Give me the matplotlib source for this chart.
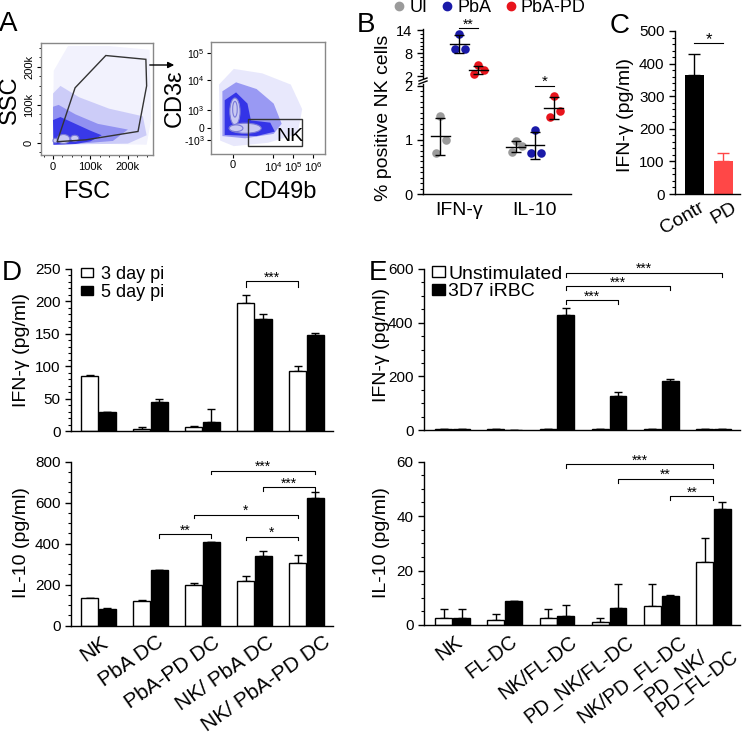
import numpy as np
import matplotlib
matplotlib.use('Agg')
import matplotlib.pyplot as plt
from matplotlib.patches import Polygon, Ellipse, Rectangle, Patch, FancyArrowPatch
from matplotlib.lines import Line2D
from matplotlib.ticker import MultipleLocator

plt.rcParams['font.family'] = ['Liberation Sans', 'DejaVu Sans']
plt.rcParams['mathtext.default'] = 'regular'
plt.rcParams['axes.linewidth'] = 1.0

W, H = 745, 732

# %% data
# panel A: gates (FSC/SSC in thousands, CD49b/CD3e in display units 0-100)
a_fsc_gate = [(11, 3), (59, 145), (141, 230), (248, 220), (250, 150), (227, 30), (88, 8)]
a_nk_gate = (32.5, 7.1, 79.8, 31.3)
a_cd49_ticks = [19.3, 54.4, 71.9, 89.5]
a_cd49_labels = ['0', '$10^4$', '$10^5$', '$10^6$']
a_cd3_ticks = [12.5, 23.2, 39.3, 66.0, 90.2]
a_cd3_labels = ['-$10^3$', '0', '$10^3$', '$10^4$', '$10^5$']

# panel B: % positive NK cells, individual mice
b_ifn_ui = [1.44, 1.00, 0.76]
b_ifn_pba = [13.0, 9.2, 9.0]
b_ifn_pbapd = [4.9, 3.6, 2.7]
b_il10_ui = [0.97, 0.88, 0.77]
b_il10_pba = [1.19, 0.75, 0.75]
b_il10_pbapd = [1.81, 1.53, 1.42]

# panel C
c_groups = ['Contr', 'PD']
c_mean = [365, 102]
c_err = [65, 25]

# panel D
d_groups = ['NK', 'PbA DC', 'PbA-PD DC', 'NK/ PbA DC', 'NK/ PbA-PD DC']
d_ifn_3 = [85, 3, 6, 197, 93]
d_ifn_3_err = [0.5, 3, 1, 13, 7]
d_ifn_5 = [29, 44, 14, 173, 148]
d_ifn_5_err = [1, 5, 20, 7, 3]
d_il_3 = [133, 118, 197, 218, 305]
d_il_3_err = [2, 5, 12, 22, 37]
d_il_5 = [80, 270, 405, 340, 620]
d_il_5_err = [4, 2, 4, 25, 30]

# panel E
e_groups = ['NK', 'FL-DC', 'NK/FL-DC', 'PD_NK/FL-DC', 'NK/PD_FL-DC', 'PD_NK/\nPD_FL-DC']
e_ifn_un = [3, 4, 2, 3, 2, 2]
e_ifn_un_err = [1, 1, 1, 1, 1, 1]
e_ifn_st = [3, 0.5, 428, 127, 183, 3]
e_ifn_st_err = [1, 0, 27, 15, 7, 1]
e_il_un = [2.5, 1.8, 2.5, 1.2, 7.0, 23.0]
e_il_un_err = [3.5, 2.2, 3.5, 1.5, 8.2, 9.0]
e_il_st = [2.5, 8.8, 3.2, 6.2, 10.5, 42.5]
e_il_st_err = [3.5, 0.0, 4.3, 8.8, 0.6, 2.7]


def rect(l, t, r, b):
    return [l / W, 1 - b / H, (r - l) / W, (b - t) / H]


def clean(ax, fs=11):
    ax.spines['top'].set_visible(False)
    ax.spines['right'].set_visible(False)
    ax.tick_params(direction='out', length=4, width=1, labelsize=fs)
    ax.tick_params(which='minor', direction='out', length=2, width=0.8)


def bracket(ax, x1, x2, y, d, txt, fs=10):
    ax.plot([x1, x1, x2, x2], [y - d, y, y, y - d], color='k', lw=0.8, clip_on=False)
    ax.annotate(txt, ((x1 + x2) / 2, y), xytext=(0, -2.5), textcoords='offset points',
                ha='center', va='bottom', fontsize=fs, annotation_clip=False)


def grouped(ax, v1, e1, v2, e2, off=0.17, w=0.33):
    x = np.arange(len(v1))
    ax.bar(x - off, v1, w, color='white', edgecolor='black', lw=1.0, zorder=2)
    ax.bar(x + off, v2, w, color='black', edgecolor='black', lw=1.0, zorder=2)
    ax.errorbar(x - off, v1, yerr=[np.zeros(len(v1)), e1], fmt='none', ecolor='black',
                elinewidth=1, capsize=3, capthick=1, zorder=1)
    ax.errorbar(x + off, v2, yerr=[np.zeros(len(v2)), e2], fmt='none', ecolor='black',
                elinewidth=1, capsize=3, capthick=1, zorder=1)
    return x


def rot_labels(ax, labels, dx_px, rot, fs, y_px=7):
    # rotated category labels, right-top corner placed under each group
    for i, (lab, dx) in enumerate(zip(labels, dx_px)):
        tr = ax.get_xaxis_transform() + matplotlib.transforms.ScaledTranslation(dx / 100, -y_px / 100,
                                                                                fig.dpi_scale_trans)
        ax.text(i, 0, lab, transform=tr, rotation=rot, rotation_mode='anchor', ha='right', va='top',
                fontsize=fs, multialignment='left', linespacing=0.95)


fig = plt.figure(figsize=(W / 100, H / 100), dpi=100)

# %% panel A, FSC/SSC
blue = '#2323e6'
ax = fig.add_axes(rect(41, 43, 153, 155))
ax.set_xlim(-32, 267)
ax.set_ylim(-32, 263)
ax.add_patch(Polygon([(0, 0), (2, 190), (40, 255), (150, 255), (258, 245), (262, 60), (250, -5)],
                     fc=blue, alpha=0.06, lw=0))
ax.add_patch(Polygon([(0, -5), (0, 130), (20, 150), (70, 120), (150, 90), (240, 70), (250, 20), (200, -2)],
                     fc=blue, alpha=0.18, lw=0))
ax.add_patch(Polygon([(0, -5), (0, 95), (15, 100), (60, 75), (120, 50), (200, 35), (160, 5), (60, -3)],
                     fc=blue, alpha=0.35, lw=0))
ax.add_patch(Polygon([(2, -5), (0, 60), (20, 68), (60, 50), (100, 32), (130, 20), (100, 4), (60, -3)],
                     fc=blue, alpha=0.8, lw=0))
for cx, cy, ew, eh in [(28, 10, 34, 24), (58, 12, 22, 16), (6, 6, 12, 12)]:
    ax.add_patch(Ellipse((cx, cy), ew, eh, fc='#c9c9f2', ec='#7a7ad8', lw=0.8))
ax.add_patch(Polygon(a_fsc_gate, closed=True, fill=False, ec='#333333', lw=1.0))
ax.set_xticks([0, 100, 200])
ax.set_xticklabels(['0', '100k', '200k'], fontsize=8)
ax.set_yticks([0, 100, 200])
ax.set_yticklabels(['0', '100k', '200k'], fontsize=8, rotation=90, va='center')
ax.xaxis.set_minor_locator(MultipleLocator(25))
ax.yaxis.set_minor_locator(MultipleLocator(25))
ax.tick_params(direction='out', length=3, width=0.8, pad=2)
ax.tick_params(which='minor', length=1.5, width=0.6)
for s in ax.spines.values():
    s.set_color('#888888')
fig.text(10 / W, 1 - 100 / H, 'SSC', rotation=90, ha='center', va='center', fontsize=17)
fig.text(87 / W, 1 - 192 / H, 'FSC', ha='center', va='center', fontsize=17)

# arrow to gated plot
fig.add_artist(FancyArrowPatch((147 / W, 1 - 65 / H), (177 / W, 1 - 65 / H),
               transform=fig.transFigure, arrowstyle='-|>', mutation_scale=9, color='k', lw=1))

# %% panel A, CD49b/CD3e
ax = fig.add_axes(rect(211, 42, 325, 154))
ax.set_xlim(0, 100)
ax.set_ylim(0, 100)
ax.add_patch(Polygon([(8, 12), (7, 62), (20, 76), (45, 72), (70, 62), (80, 40), (76, 18), (50, 10), (20, 7)],
                     fc=blue, alpha=0.10, lw=0))
ax.add_patch(Polygon([(10, 16), (10, 56), (22, 64), (40, 58), (55, 45), (62, 27), (55, 18), (30, 14)],
                     fc=blue, alpha=0.4, lw=0))
ax.add_patch(Polygon([(12, 17), (12, 48), (22, 55), (32, 45), (35, 30), (52, 28), (56, 20), (40, 16)],
                     fc=blue, alpha=0.85, lw=0))
for cx, cy, ew, eh in [(21, 38, 9, 24), (30, 23, 28, 9), (21, 40, 4, 14), (22, 23, 12, 6)]:
    ax.add_patch(Ellipse((cx, cy), ew, eh, fc='#c9c9f2', ec='#7a7ad8', lw=0.8))
x1, y1, x2, y2 = a_nk_gate
ax.add_patch(Rectangle((x1, y1), x2 - x1, y2 - y1, fill=False, ec='#333333', lw=1.0))
ax.text(69, 16, 'NK', fontsize=14, ha='center', va='center')
ax.set_xticks(a_cd49_ticks)
ax.set_xticklabels(a_cd49_labels, fontsize=8)
ax.set_yticks(a_cd3_ticks)
ax.set_yticklabels(a_cd3_labels, fontsize=7.5)
ax.tick_params(direction='out', length=3, width=0.8, pad=1.5)
for s in ax.spines.values():
    s.set_color('#888888')
fig.text(175 / W, 1 - 98 / H, 'CD3ε', rotation=90, ha='center', va='center', fontsize=17)
fig.text(280 / W, 1 - 192 / H, 'CD49b', ha='center', va='center', fontsize=17)

# %% panel B
col = {'UI': '#9b9b9b', 'PbA': '#1a1aa8', 'PbA-PD': '#e8141c'}
pos = [0, 1, 2, 4, 5, 6]
sets = [b_ifn_ui, b_ifn_pba, b_ifn_pbapd, b_il10_ui, b_il10_pba, b_il10_pbapd]
cols = [col['UI'], col['PbA'], col['PbA-PD']] * 2
jit = [0.0, 0.3, -0.2]

axu = fig.add_axes(rect(423, 29, 571, 78))
axl = fig.add_axes(rect(423, 84, 571, 194))
for a in (axu, axl):
    clean(a, fs=10.5)
    a.set_xlim(-0.9, 6.9)
axu.spines['bottom'].set_visible(False)
axu.set_xticks([])
axu.set_ylim(1.6, 14.3)
axu.set_yticks([2, 8, 14])
axu.yaxis.set_minor_locator(MultipleLocator(1))
axl.set_ylim(0, 2.03)
axl.set_yticks([0, 1, 2])
axl.yaxis.set_minor_locator(MultipleLocator(0.1))
axl.set_xticks([1, 5])
axl.set_xticklabels(['IFN-γ', 'IL-10'], fontsize=14)
axl.tick_params(axis='x', length=0, pad=6)
for p, vals, c in zip(pos, sets, cols):
    vals = np.array(vals)
    m, sd = vals.mean(), vals.std(ddof=1)
    a = axu if m > 2 else axl
    a.scatter(p + np.array(jit), vals, s=38, color=c, zorder=3, lw=0, clip_on=False)
    a.plot([p - 0.5, p + 0.5], [m, m], color='k', lw=1, zorder=4)
    a.errorbar(p, m, yerr=sd, fmt='none', ecolor='k', elinewidth=1, capsize=3.5, capthick=1, zorder=4)
# broken axis marks
for yy in (79.5, 82.5):
    fig.add_artist(Line2D([419 / W, 427 / W], [1 - (yy + 1.5) / H, 1 - (yy - 1.5) / H],
                          color='k', lw=1))
bracket(axu, 1, 2, 14.6, 0, '**', fs=10)
bracket(axl, 5, 6, 2.0, 0, '*', fs=11)
handles = [Line2D([], [], marker='o', ls='none', color=col[k], markersize=6) for k in col]
axu.legend(handles, list(col), loc='lower left', bbox_to_anchor=(-0.22, 1.26), ncol=3, frameon=False,
           fontsize=13, handletextpad=0.05, columnspacing=0.6, borderaxespad=0, borderpad=0,
           handlelength=1)
fig.text(383 / W, 1 - 118 / H, '% positive NK cells', rotation=90, ha='center', va='center', fontsize=14)

# %% panel C
ax = fig.add_axes(rect(675, 31, 740, 194))
clean(ax)
ax.set_xlim(-0.67, 1.57)
ax.set_ylim(0, 500)
ax.set_yticks(range(0, 501, 100))
ax.yaxis.set_minor_locator(MultipleLocator(20))
cx = np.arange(len(c_groups))
c_cols = ['black', '#ff4747']
ax.bar(cx, c_mean, 0.65, color=c_cols, zorder=2)
for xx, m, e, c in zip(cx, c_mean, c_err, c_cols):
    ax.errorbar(xx, m, yerr=[[0], [e]], fmt='none', ecolor=c,
                elinewidth=1, capsize=4, capthick=1, zorder=1)
ax.set_xticks([])
rot_labels(ax, c_groups, [4, 8], 30, 14, y_px=5)
bracket(ax, 0, 1, 462, 0, '*', fs=12)
fig.text(625 / W, 1 - 115 / H, 'IFN-γ (pg/ml)', rotation=90, ha='center', va='center', fontsize=14)

# %% panel D
ax = fig.add_axes(rect(71, 268.5, 333, 431))
clean(ax)
grouped(ax, d_ifn_3, d_ifn_3_err, d_ifn_5, d_ifn_5_err)
ax.set_xlim(-0.53, 4.51)
ax.set_ylim(0, 250)
ax.set_yticks(range(0, 251, 50))
ax.yaxis.set_minor_locator(MultipleLocator(10))
ax.set_xticks([])
bracket(ax, 2.83, 3.83, 231, 9, '***')
ax.legend([Patch(fc='white', ec='black'), Patch(fc='black', ec='black')], ['3 day pi', '5 day pi'],
          loc='upper left', bbox_to_anchor=(0.01, 1.06), frameon=False, fontsize=13,
          handlelength=0.7, handleheight=0.45, handletextpad=0.4, labelspacing=0.05, borderaxespad=0)
fig.text(22 / W, 1 - 350 / H, 'IFN-γ (pg/ml)', rotation=90, ha='center', va='center', fontsize=14)

ax = fig.add_axes(rect(71, 461.5, 333, 625.5))
clean(ax)
grouped(ax, d_il_3, d_il_3_err, d_il_5, d_il_5_err)
ax.set_xlim(-0.53, 4.51)
ax.set_ylim(0, 800)
ax.set_yticks(range(0, 801, 200))
ax.yaxis.set_minor_locator(MultipleLocator(50))
ax.set_xticks([])
rot_labels(ax, d_groups, [2, 6, 10, 12, 16], 35, 15)
bracket(ax, 1.17, 2.17, 446, 18, '**')
bracket(ax, 1.83, 3.83, 540, 18, '*')
bracket(ax, 2.83, 3.83, 433, 18, '*')
bracket(ax, 2.17, 4.17, 755, 18, '***')
bracket(ax, 3.17, 4.17, 676, 18, '***')
fig.text(22 / W, 1 - 543 / H, 'IL-10 (pg/ml)', rotation=90, ha='center', va='center', fontsize=14)

# %% panel E
ax = fig.add_axes(rect(424, 269, 740, 430))
clean(ax)
grouped(ax, e_ifn_un, e_ifn_un_err, e_ifn_st, e_ifn_st_err, w=0.325)
ax.set_xlim(-0.55, 5.51)
ax.set_ylim(0, 600)
ax.set_yticks(range(0, 601, 200))
ax.yaxis.set_minor_locator(MultipleLocator(50))
ax.set_xticks([])
bracket(ax, 2.17, 3.17, 485, 15, '***')
bracket(ax, 2.17, 4.17, 537, 15, '***')
bracket(ax, 2.17, 5.17, 586, 15, '***')
ax.legend([Patch(fc='white', ec='black'), Patch(fc='black', ec='black')], ['Unstimulated', '3D7 iRBC'],
          loc='upper left', bbox_to_anchor=(0.0, 1.07), frameon=False, fontsize=14,
          handlelength=0.7, handleheight=0.45, handletextpad=0.15, labelspacing=0.05, borderaxespad=0)
fig.text(381 / W, 1 - 345 / H, 'IFN-γ (pg/ml)', rotation=90, ha='center', va='center', fontsize=14)

ax = fig.add_axes(rect(424, 461.5, 740, 625))
clean(ax)
grouped(ax, e_il_un, e_il_un_err, e_il_st, e_il_st_err, w=0.325)
ax.set_xlim(-0.55, 5.51)
ax.set_ylim(0, 60)
ax.set_yticks(range(0, 61, 20))
ax.yaxis.set_minor_locator(MultipleLocator(5))
ax.set_xticks([])
rot_labels(ax, e_groups, [2, 5, 12, 17, 18, 6], 37, 14.5)
bracket(ax, 2.17, 5.0, 59, 1.5, '***')
bracket(ax, 3.17, 5.0, 53.7, 1.5, '**')
bracket(ax, 4.17, 5.0, 47.2, 1.5, '**')
fig.text(381 / W, 1 - 543 / H, 'IL-10 (pg/ml)', rotation=90, ha='center', va='center', fontsize=14)

# %% panel letters
for lab, xx, yy in [('A', 8, 24), ('B', 366, 25), ('C', 620, 26), ('D', 12, 273), ('E', 378, 273)]:
    fig.text(xx / W, 1 - yy / H, lab, fontsize=20, ha='center', va='center')

fig.savefig('out.png', dpi=100)
